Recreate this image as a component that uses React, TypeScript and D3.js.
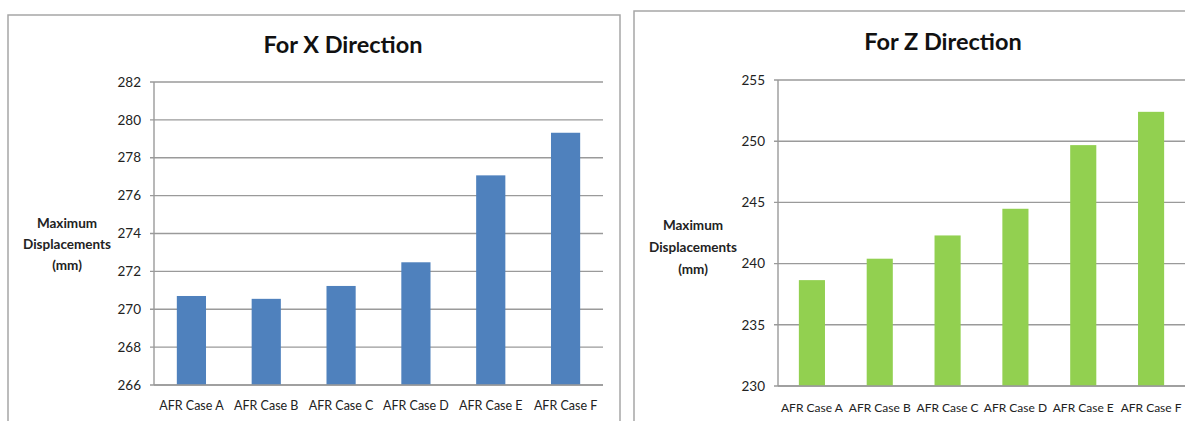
import React from "react";
import * as d3 from "d3";

const categories = ["AFR Case A", "AFR Case B", "AFR Case C", "AFR Case D", "AFR Case E", "AFR Case F"];
const xDirectionValues = [270.7, 270.55, 271.23, 272.48, 277.07, 279.32];
const zDirectionValues = [238.65, 240.4, 242.3, 244.48, 249.68, 252.4];
const xDirectionTicks = [266, 268, 270, 272, 274, 276, 278, 280, 282];
const zDirectionTicks = [230, 235, 240, 245, 250, 255];
const yTitleLines = ["Maximum", "Displacements", "(mm)"];

const FONT = "Lato, 'Liberation Sans', sans-serif";

type PanelProps = {
  title: string;
  values: number[];
  ticks: number[];
  color: string;
  box: { x: number; y: number; w: number; h: number };
  plot: { left: number; right: number; top: number; bottom: number };
  titlePos: { x: number; y: number };
  yTitle: { x: number; ys: number[] };
  padding: number;
  labelSize: number;
  tickSize: number;
  labelY: number;
};

function Panel(p: PanelProps) {
  const x = d3.scaleBand<string>().domain(categories).range([p.plot.left, p.plot.right]).paddingInner(p.padding).paddingOuter(p.padding / 2);
  const y = d3.scaleLinear().domain([p.ticks[0], p.ticks[p.ticks.length - 1]]).range([p.plot.bottom, p.plot.top]);
  return (
    <g>
      <rect x={p.box.x} y={p.box.y} width={p.box.w} height={p.box.h} fill="#fff" stroke="#a6a6a6" strokeWidth={1.5} />
      <text x={p.titlePos.x} y={p.titlePos.y} textAnchor="middle" fontFamily={FONT} fontWeight="bold" fontSize={23.5} fill="#111">{p.title}</text>
      {p.ticks.map((t) => (
        <g key={t}>
          <line x1={p.plot.left - 4} x2={p.plot.right} y1={y(t)} y2={y(t)} stroke="#9a9a9a" strokeWidth={1.4} />
          <text x={p.plot.left - 13} y={y(t)} dy="0.35em" textAnchor="end" fontFamily={FONT} fontSize={p.tickSize} fill="#222">{t}</text>
        </g>
      ))}
      <line x1={p.plot.left} x2={p.plot.left} y1={p.plot.top} y2={p.plot.bottom} stroke="#9a9a9a" strokeWidth={1.4} />
      {categories.map((c, i) => (
        <rect key={c} x={x(c)} width={x.bandwidth()} y={y(p.values[i])} height={y(p.ticks[0]) - y(p.values[i])} fill={p.color} />
      ))}
      <line x1={p.plot.left} x2={p.plot.right} y1={p.plot.bottom} y2={p.plot.bottom} stroke="#9a9a9a" strokeWidth={1.4} />
      {categories.map((c) => (
        <text key={c} x={(x(c) as number) + x.bandwidth() / 2} y={p.labelY} dy="0.35em" textAnchor="middle" fontFamily={FONT} fontSize={p.labelSize} fill="#222">{c}</text>
      ))}
      {yTitleLines.map((l, i) => (
        <text key={l} x={p.yTitle.x} y={p.yTitle.ys[i]} dy="0.35em" textAnchor="middle" fontFamily={FONT} fontWeight="bold" fontSize={13.5} fill="#222">{l}</text>
      ))}
    </g>
  );
}

export default function App() {
  return (
    <svg width={1185} height={421} style={{ position: "absolute", left: 0, top: 0, background: "#fff" }}>
      <Panel
        title="For X Direction"
        values={xDirectionValues}
        ticks={xDirectionTicks}
        color="#4F81BD"
        box={{ x: 8, y: 15, w: 612, h: 420 }}
        plot={{ left: 154, right: 603, top: 82, bottom: 385 }}
        titlePos={{ x: 343, y: 53 }}
        yTitle={{ x: 67, ys: [223, 244, 265] }}
        padding={0.61}
        labelSize={12.5}
        tickSize={13.5}
        labelY={406}
      />
      <Panel
        title="For Z Direction"
        values={zDirectionValues}
        ticks={zDirectionTicks}
        color="#92D050"
        box={{ x: 634, y: 11, w: 600, h: 420 }}
        plot={{ left: 778, right: 1185, top: 80, bottom: 386 }}
        titlePos={{ x: 943, y: 50 }}
        yTitle={{ x: 693, ys: [225, 247, 269] }}
        padding={0.615}
        labelSize={12}
        tickSize={13.5}
        labelY={408}
      />
    </svg>
  );
}
